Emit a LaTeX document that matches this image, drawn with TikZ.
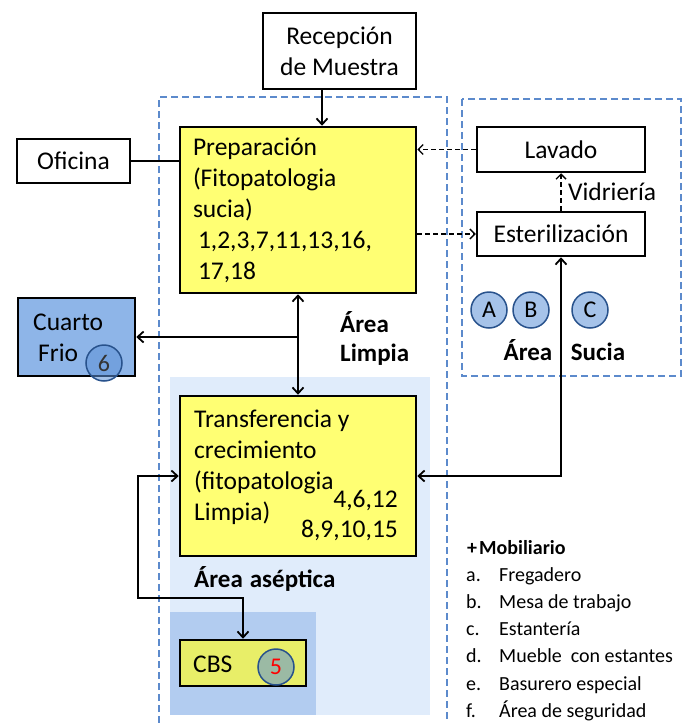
\documentclass[tikz,border=0pt]{standalone}
\usepackage{fontspec}
\setmainfont{Carlito}
\usetikzlibrary{arrows.meta}

\definecolor{boxyellow}{RGB}{255,255,115}
\definecolor{cbsyellow}{RGB}{232,238,104}
\definecolor{frioblue}{RGB}{142,181,232}
\definecolor{asepblue}{RGB}{224,236,251}
\definecolor{cbsblue}{RGB}{178,204,240}
\definecolor{zoneblue}{RGB}{92,138,204}
\definecolor{dotblue}{RGB}{93,145,215}
\definecolor{rimblue}{RGB}{40,82,140}

\tikzset{
  big/.style={font=\fontsize{25.5}{31}\selectfont},
  room/.style={draw, line width=2.5pt, inner sep=0pt, big},
  words/.style={anchor=base west, inner sep=0pt, align=left, big},
  spot/.style={circle, draw=rimblue, line width=1.5pt, fill=dotblue, fill opacity=0.55,
    text opacity=1, minimum size=36pt, inner sep=0pt, font=\fontsize{24}{24}\selectfont},
  zone/.style={draw=zoneblue, line width=1.8pt, dash pattern=on 7pt off 4pt},
  flow/.style={line width=2pt, -{Straight Barb[length=6pt,width=11pt,line width=1.8pt]}},
  flowboth/.style={line width=2pt, {Straight Barb[length=6pt,width=11pt,line width=1.8pt]}-{Straight Barb[length=6pt,width=11pt,line width=1.8pt]}},
  glass/.style={line width=1.5pt, dash pattern=on 5pt off 3pt, -{Straight Barb[length=5pt,width=10pt,line width=1.4pt]}},
  tag/.style={font=\fontsize{25}{29}\selectfont\bfseries},
  legend/.style={anchor=base west, inner sep=0pt, font=\fontsize{20}{27}\selectfont}
}

\begin{document}
\begin{tikzpicture}[x=1pt,y=-1pt]
\useasboundingbox (0,0) rectangle (690,723);

%shaded areas
\fill[asepblue] (170,377) rectangle (430,715);
\fill[cbsblue] (170,612) rectangle (316,715);

%dashed zones
\draw[zone] (159,723) |- (447,97) -- (447,723);
\draw[zone] (462,99) rectangle (681,376);

%rooms
\node[room, minimum width=153pt, minimum height=76pt, align=center] (recep) at (339.5,51) {Recepción\\de Muestra};
\node[room, minimum width=113pt, minimum height=44pt] (ofi) at (73.5,161) {Oficina};
\node[room, fill=boxyellow, minimum width=236pt, minimum height=166pt, text width=210pt, align=left] (prep) at (298,210)
  {Preparación\\(Fitopatologia\\sucia)\\\hspace*{5pt}1,2,3,7,11,13,16,\\\hspace*{5pt}17,18};
\node[room, minimum width=168pt, minimum height=45pt] (lav) at (561,149.5) {Lavado};
\node[room, minimum width=168pt, minimum height=44pt] (ester) at (561,234) {Esterilización};
\node[room, fill=frioblue, minimum width=117pt, minimum height=78pt] (frio) at (76.5,337) {};
\node[room, fill=boxyellow, minimum width=236pt, minimum height=160pt] (transf) at (298,476) {};
\node[room, fill=cbsyellow, minimum width=126pt, minimum height=46pt] (cbs) at (243,663) {};

%texts inside boxes (base = last line)
\node[words] (friotxt) at (33,361) {Cuarto\\\hspace*{5pt}Frio};
\node[words] (transftxt) at (194,520) {Transferencia y\\crecimiento\\(fitopatologia\\Limpia)};
\node[words, anchor=base east, align=right, font=\fontsize{25.5}{30}\selectfont] (transfnum) at (398,537) {4,6,12\\8,9,10,15};
\node[words] (cbstxt) at (193,672) {CBS};

%numbered spots
\node[spot, text=black!80] (six) at (104,363) {6};
\node[spot, text=red] (five) at (276,667) {5};
\node[spot] (spotA) at (489,310) {A};
\node[spot] (spotB) at (531,310) {B};
\node[spot] (spotC) at (590,310) {C};

%area names
\node[tag, anchor=base west, inner sep=0pt, align=left] (limpia) at (340,361) {Área\\Limpia};
\node[tag, anchor=base, inner sep=0pt] (suciaA) at (528,360) {Área};
\node[tag, anchor=base, inner sep=0pt] (suciaB) at (598,360) {Sucia};
\node[tag, anchor=base west, inner sep=0pt] (asep) at (194,587) {Área\hspace{7pt}aséptica};

%connectors
\draw[flow] ([xshift=-17.5pt]recep.south) -- ([xshift=-17.5pt]recep.south |- prep.north);
\draw[line width=2pt] (ofi.east) -- (ofi.east -| prep.west);
\draw[glass] (lav.west) -- (lav.west -| prep.east);
\draw[glass] (ester.west -| prep.east) -- (ester.west);
\draw[glass] (ester.north) -- (lav.south) node[pos=0.5, right=3pt, big] (vid) {Vidriería};
\draw[flowboth] (transf.east) -| (ester.south);
\draw[flowboth] (prep.south) -- (transf.north);
\coordinate (branch) at (298,337);
\draw[flow] (branch) -- (branch -| frio.east);
\coordinate (loop) at (138,598);
\draw[flowboth] (transf.west) -| (loop) -| (cbs.north);

%furniture list
\node[legend, font=\fontsize{20}{27}\selectfont\bfseries] (mob) at (467,554) {+\hspace{2pt}Mobiliario};
\foreach \l/\t [count=\i] in {a./Fregadero, b./Mesa de trabajo, c./Estantería, d./Mueble\ \ con estantes, e./Basurero especial, f./Área de seguridad}
{
  \node[legend] (key\i) at (466,554+27.2*\i) {\l};
  \node[legend] (item\i) at (499,554+27.2*\i) {\t};
}
\end{tikzpicture}
\end{document}
